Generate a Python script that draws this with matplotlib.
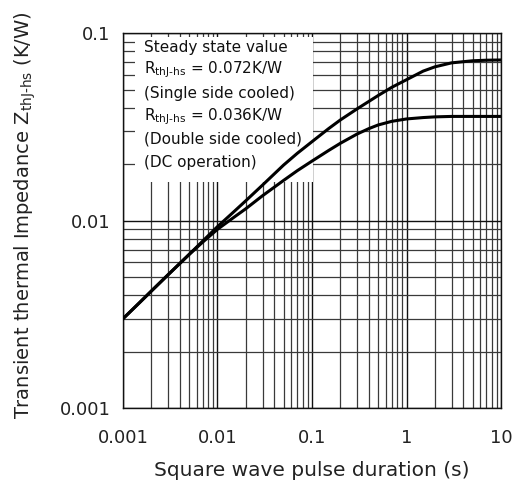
import matplotlib
matplotlib.use("Agg")
import matplotlib.pyplot as plt
from matplotlib.patches import Rectangle
from matplotlib.ticker import LogLocator, FixedLocator, NullFormatter

plt.rcParams['font.family'] = ['DejaVu Sans']
plt.rcParams['mathtext.fontset'] = 'custom'
plt.rcParams['mathtext.rm'] = 'DejaVu Sans'

# pulse duration (s) and transient thermal impedance (K/W)
pulse = [0.001, 0.0015, 0.002, 0.003, 0.005, 0.007, 0.01, 0.015, 0.02, 0.03,
         0.05, 0.07, 0.1, 0.15, 0.2, 0.3, 0.4, 0.5, 0.7, 1, 1.5, 2, 3, 5, 7, 10]
z_single = [0.0030, 0.00366, 0.00422, 0.00515, 0.0066, 0.0078, 0.0093, 0.0112,
            0.0128, 0.0155, 0.0198, 0.0229, 0.0264, 0.0310, 0.0345, 0.0395,
            0.0433, 0.0465, 0.0515, 0.0565, 0.0628, 0.0662, 0.0695, 0.0713,
            0.0718, 0.0720]
z_double = [0.0030, 0.00366, 0.00422, 0.00515, 0.0066, 0.0077, 0.0090, 0.01045,
            0.0116, 0.0136, 0.0164, 0.0185, 0.0208, 0.0237, 0.0259, 0.0290,
            0.0310, 0.0324, 0.0339, 0.0349, 0.0355, 0.0358, 0.0360, 0.0360,
            0.0360, 0.0360]

xticks = [0.001, 0.01, 0.1, 1, 10]
xticklabels = ['0.001', '0.01', '0.1', '1', '10']
yticks = [0.001, 0.01, 0.1]
yticklabels = ['0.001', '0.01', '0.1']

sub = r'$_{\mathregular{thJ}\text{-}\mathregular{hs}}$'
note_lines = ['Steady state value',
              'R' + sub + ' = 0.072K/W',
              '(Single side cooled)',
              'R' + sub + ' = 0.036K/W',
              '(Double side cooled)',
              '(DC operation)']

fig = plt.figure(figsize=(5.2, 4.96), dpi=100)
ax = fig.add_axes([0.2365, 0.177, 0.727, 0.756])
ax.set_xscale('log')
ax.set_yscale('log')
ax.set_xlim(0.001, 10)
ax.set_ylim(0.001, 0.1)

ax.xaxis.set_major_locator(FixedLocator(xticks))
ax.yaxis.set_major_locator(FixedLocator(yticks))
ax.set_xticklabels(xticklabels)
ax.set_yticklabels(yticklabels)
ax.xaxis.set_minor_locator(LogLocator(base=10, subs=range(2, 10)))
ax.yaxis.set_minor_locator(LogLocator(base=10, subs=range(2, 10)))
ax.xaxis.set_minor_formatter(NullFormatter())
ax.yaxis.set_minor_formatter(NullFormatter())
ax.tick_params(which='both', length=0, labelsize=13, colors='#222222')
ax.tick_params(axis='x', pad=15)
ax.tick_params(axis='y', pad=9)

ax.grid(True, which='major', color='#111111', lw=1.0)
ax.grid(True, which='minor', color='#3a3a3a', lw=0.9)
ax.set_axisbelow(True)
for sp in ax.spines.values():
    sp.set_color('#111111')
    sp.set_linewidth(1.0)

# white note area over the grid
ax.add_patch(Rectangle((0.032, 0.603), 0.471, 0.386, transform=ax.transAxes,
                       facecolor='white', edgecolor='none', zorder=1.5))
for i, line in enumerate(note_lines):
    ax.text(0.056, 0.963 - i * 0.0615, line, transform=ax.transAxes,
            fontsize=11, va='center', ha='left', color='#111111', zorder=2)

ax.plot(pulse, z_single, color='black', lw=2.2, zorder=3)
ax.plot(pulse, z_double, color='black', lw=2.2, zorder=3)

ax.set_xlabel('Square wave pulse duration (s)', fontsize=14.5, labelpad=10,
              color='#222222')
ax.set_ylabel('Transient thermal Impedance Z' + sub + ' (K/W)', fontsize=14,
              color='#222222')
ax.yaxis.set_label_coords(-0.226, 0.515)

fig.savefig('out.png', dpi=100)
